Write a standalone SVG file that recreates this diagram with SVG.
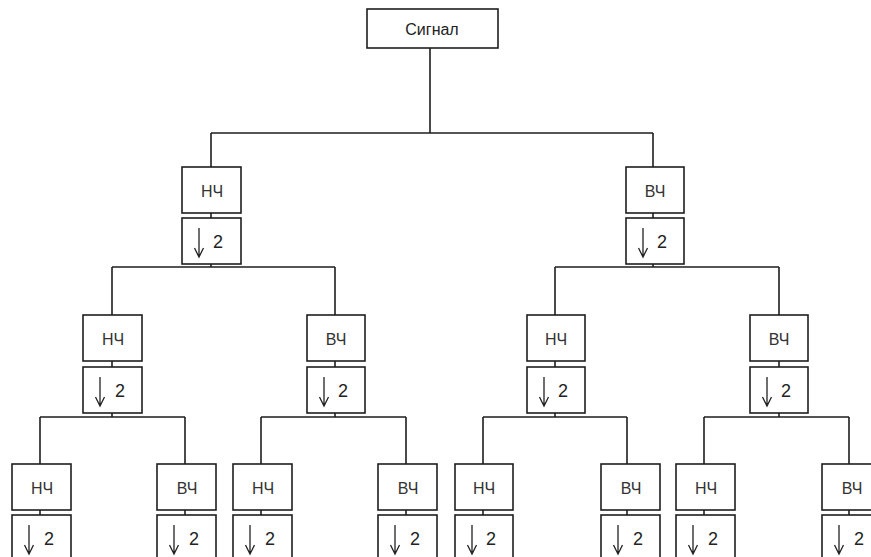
<svg xmlns="http://www.w3.org/2000/svg" xmlns:xlink="http://www.w3.org/1999/xlink" width="871" height="557" viewBox="0 0 871 557">
<style>
.b{fill:#fff;stroke:#1e1e1e;stroke-width:1.6}
.c{fill:none;stroke:#1e1e1e;stroke-width:1.6}
.ar{fill:none;stroke:#222;stroke-width:1.3}
.t{font-family:"Liberation Sans",Arial,sans-serif;font-size:16px;fill:#333;text-anchor:middle}
.s{font-family:"Liberation Sans",Arial,sans-serif;font-size:16px;fill:#222;text-anchor:middle}
.n{font-family:"Liberation Sans",Arial,sans-serif;font-size:18px;fill:#222}
</style>
<defs>
<path id="arr" class="ar" d="M0 0V29M-4.5 20L0 29L4.5 20"/>
</defs>
<rect width="871" height="557" fill="#fff"/>
<g id="connectors" class="c">
<path d="M430 48V133M211 133H653M211 133V167M653 133V167"/>
<path d="M211 213V218M653 213V218M211 264V267M653 264V267"/>
<path d="M112 267H335M112 267V315M335 267V315M555 267H779M555 267V315M779 267V315"/>
<path d="M112 361V367M335 361V367M555 361V367M779 361V367"/>
<path d="M112 413V417M335 413V417M555 413V417M779 413V417"/>
<path d="M40 417H185M40 417V464M185 417V464M261 417H406M261 417V464M406 417V464M483 417H627M483 417V464M627 417V464M704 417H849M704 417V464M849 417V464"/>
<path d="M40 510V515M185 510V515M261 510V515M406 510V515M483 510V515M627 510V515M704 510V515M849 510V515"/>
</g>
<g id="signal"><rect class="b" x="367" y="9" width="131" height="39"/><text class="s" x="432" y="35">Сигнал</text></g>
<g id="l1-lf"><rect class="b" x="182" y="167" width="59" height="46"/><text class="t" x="212" y="197">НЧ</text></g>
<g id="l1-lf-ds"><rect class="b" x="182" y="218" width="59" height="46"/><use xlink:href="#arr" x="199" y="228"/><text class="n" x="213" y="248">2</text></g>
<g id="l1-hf"><rect class="b" x="626" y="167" width="58" height="46"/><text class="t" x="655" y="197">ВЧ</text></g>
<g id="l1-hf-ds"><rect class="b" x="626" y="218" width="58" height="46"/><use xlink:href="#arr" x="643" y="228"/><text class="n" x="657" y="248">2</text></g>

<g id="l2-1"><rect class="b" x="83" y="315" width="59" height="46"/><text class="t" x="113" y="345">НЧ</text></g>
<g id="l2-1-ds"><rect class="b" x="83" y="367" width="59" height="46"/><use xlink:href="#arr" x="100" y="377"/><text class="n" x="115" y="397">2</text></g>
<g id="l2-2"><rect class="b" x="307" y="315" width="58" height="46"/><text class="t" x="336" y="345">ВЧ</text></g>
<g id="l2-2-ds"><rect class="b" x="307" y="367" width="58" height="46"/><use xlink:href="#arr" x="324" y="377"/><text class="n" x="338" y="397">2</text></g>
<g id="l2-3"><rect class="b" x="527" y="315" width="58" height="46"/><text class="t" x="556" y="345">НЧ</text></g>
<g id="l2-3-ds"><rect class="b" x="527" y="367" width="58" height="46"/><use xlink:href="#arr" x="544" y="377"/><text class="n" x="558" y="397">2</text></g>
<g id="l2-4"><rect class="b" x="750" y="315" width="58" height="46"/><text class="t" x="779" y="345">ВЧ</text></g>
<g id="l2-4-ds"><rect class="b" x="750" y="367" width="58" height="46"/><use xlink:href="#arr" x="767" y="377"/><text class="n" x="781" y="397">2</text></g>

<g id="l3-1"><rect class="b" x="12" y="464" width="59" height="46"/><text class="t" x="42" y="494">НЧ</text></g>
<g id="l3-1-ds"><rect class="b" x="12" y="515" width="59" height="46"/><use xlink:href="#arr" x="29" y="525"/><text class="n" x="44" y="545">2</text></g>
<g id="l3-2"><rect class="b" x="157" y="464" width="59" height="46"/><text class="t" x="187" y="494">ВЧ</text></g>
<g id="l3-2-ds"><rect class="b" x="157" y="515" width="59" height="46"/><use xlink:href="#arr" x="174" y="525"/><text class="n" x="189" y="545">2</text></g>
<g id="l3-3"><rect class="b" x="233" y="464" width="59" height="46"/><text class="t" x="263" y="494">НЧ</text></g>
<g id="l3-3-ds"><rect class="b" x="233" y="515" width="59" height="46"/><use xlink:href="#arr" x="250" y="525"/><text class="n" x="265" y="545">2</text></g>
<g id="l3-4"><rect class="b" x="378" y="464" width="59" height="46"/><text class="t" x="408" y="494">ВЧ</text></g>
<g id="l3-4-ds"><rect class="b" x="378" y="515" width="59" height="46"/><use xlink:href="#arr" x="395" y="525"/><text class="n" x="410" y="545">2</text></g>
<g id="l3-5"><rect class="b" x="455" y="464" width="58" height="46"/><text class="t" x="484" y="494">НЧ</text></g>
<g id="l3-5-ds"><rect class="b" x="455" y="515" width="58" height="46"/><use xlink:href="#arr" x="472" y="525"/><text class="n" x="486" y="545">2</text></g>
<g id="l3-6"><rect class="b" x="601" y="464" width="59" height="46"/><text class="t" x="631" y="494">ВЧ</text></g>
<g id="l3-6-ds"><rect class="b" x="601" y="515" width="59" height="46"/><use xlink:href="#arr" x="618" y="525"/><text class="n" x="633" y="545">2</text></g>
<g id="l3-7"><rect class="b" x="676" y="464" width="59" height="46"/><text class="t" x="706" y="494">НЧ</text></g>
<g id="l3-7-ds"><rect class="b" x="676" y="515" width="59" height="46"/><use xlink:href="#arr" x="693" y="525"/><text class="n" x="708" y="545">2</text></g>
<g id="l3-8"><rect class="b" x="822" y="464" width="59" height="46"/><text class="t" x="852" y="494">ВЧ</text></g>
<g id="l3-8-ds"><rect class="b" x="822" y="515" width="59" height="46"/><use xlink:href="#arr" x="839" y="525"/><text class="n" x="854" y="545">2</text></g>
</svg>
